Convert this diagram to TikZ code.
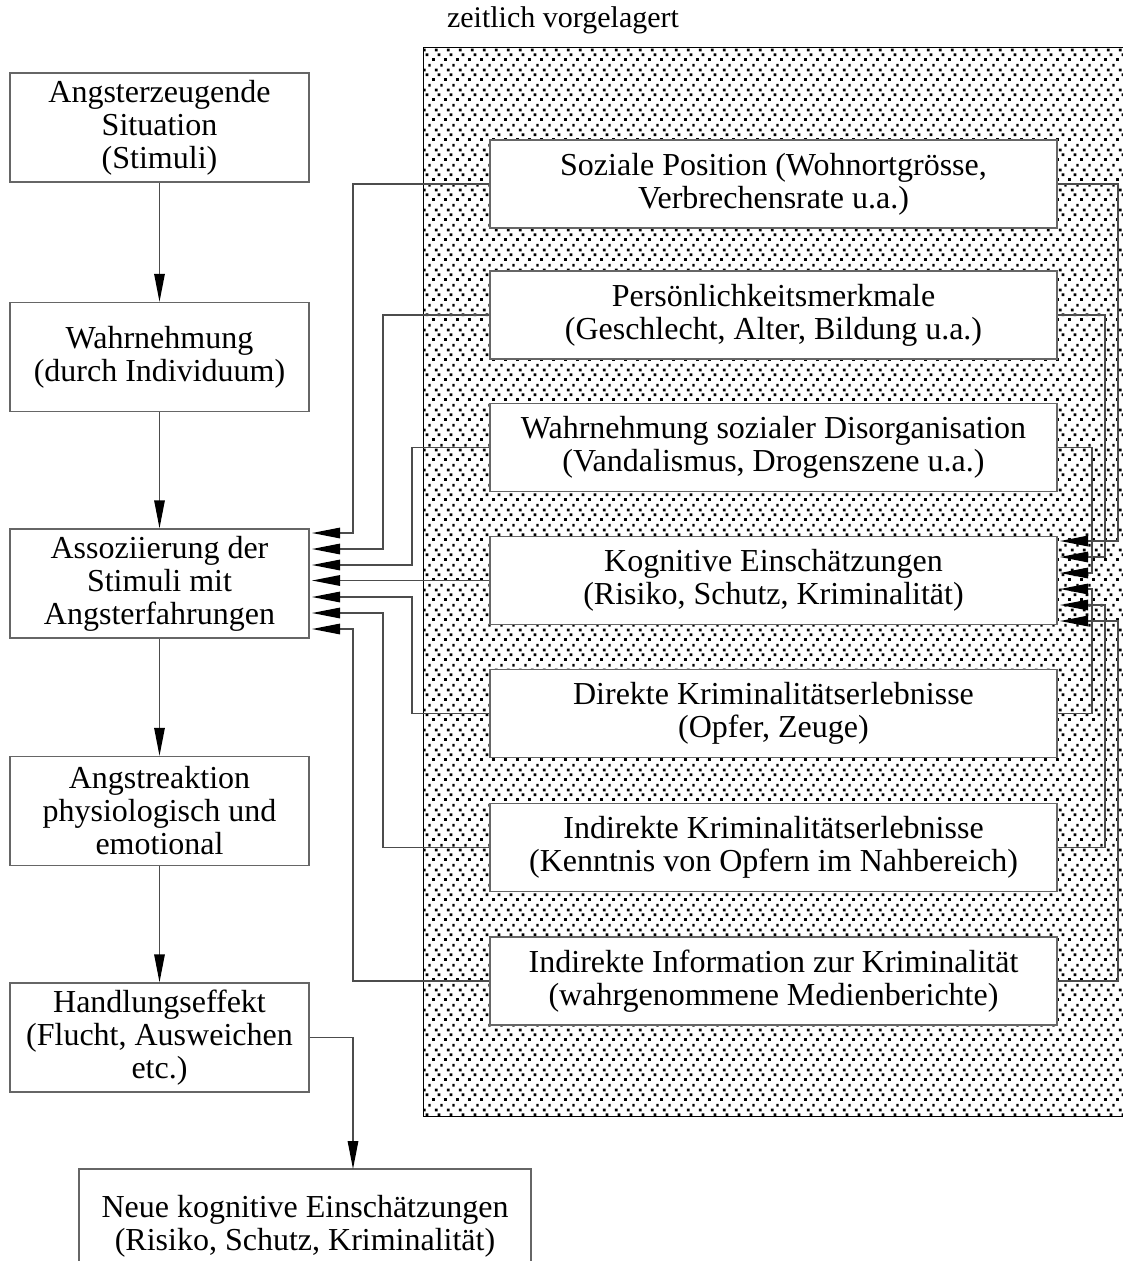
\documentclass[tikz,border=0pt]{standalone}
\usepackage{fontspec}
\setmainfont{Liberation Serif}
\usetikzlibrary{arrows.meta,patterns}

% staggered square dots for the shaded zone
\pgfdeclarepatternformonly{sprinkle}{\pgfpointorigin}{\pgfpoint{12pt}{20pt}}{\pgfpoint{12pt}{20pt}}{
  \pgfpathrectangle{\pgfpoint{0pt}{0pt}}{\pgfpoint{3pt}{3pt}}
  \pgfpathrectangle{\pgfpoint{6pt}{5pt}}{\pgfpoint{3pt}{3pt}}
  \pgfpathrectangle{\pgfpoint{3pt}{10pt}}{\pgfpoint{3pt}{3pt}}
  \pgfpathrectangle{\pgfpoint{9pt}{15pt}}{\pgfpoint{2.6pt}{3pt}}
  \pgfusepath{fill}
}

\tikzset{
  txt/.style={font=\fontsize{32}{33}\selectfont},
  box/.style={txt, draw=black!60, line width=1.4pt, fill=white, align=center, inner sep=0pt},
  lbox/.style={box, minimum width=299pt, minimum height=109pt},
  rbox/.style={box, minimum width=567pt, minimum height=88pt},
  conn/.style={draw=black!70, line width=1.4pt},
  arr/.style={conn, -{Triangle[length=28pt,width=10.5pt,color=black]}},
}

\begin{document}
\begin{tikzpicture}[x=1pt,y=-1pt]
\useasboundingbox (0,0) rectangle (1123,1261);
\clip (0,0) rectangle (1123,1261);

% shaded zone for the antecedent factors
\path[pattern=sprinkle] (423,47) rectangle (1140,1116);
\draw[line width=0.8pt] (1140,47) -- (423,47) -- (423,1116) -- (1140,1116);
\node[font=\fontsize{30}{32}\selectfont] (title) at (563,20) {zeitlich vorgelagert};

% main sequence
\node[lbox] (b1) at (159.5,127.5) {Angsterzeugende\\Situation\\(Stimuli)};
\node[lbox] (b2) at (159.5,357) {Wahrnehmung\\(durch Individuum)};
\node[lbox] (b3) at (159.5,583.5) {Assoziierung der\\Stimuli mit\\Angsterfahrungen};
\node[lbox] (b4) at (159.5,811) {Angstreaktion\\physiologisch und\\emotional};
\node[lbox] (b5) at (159.5,1037.5) {Handlungseffekt\\(Flucht, Ausweichen\\etc.)};
\node[box, minimum width=452pt, minimum height=114pt] (b6) at (305,1226)
  {Neue kognitive Einschätzungen\\(Risiko, Schutz, Kriminalität)};

% antecedent factors
\node[rbox] (r1) at (773.5,184) {Soziale Position (Wohnortgrösse,\\Verbrechensrate u.a.)};
\node[rbox] (r2) at (773.5,315) {Persönlichkeitsmerkmale\\(Geschlecht, Alter, Bildung u.a.)};
\node[rbox] (r3) at (773.5,447.5) {Wahrnehmung sozialer Disorganisation\\(Vandalismus, Drogenszene u.a.)};
\node[rbox] (r4) at (773.5,580.5) {Kognitive Einschätzungen\\(Risiko, Schutz, Kriminalität)};
\node[rbox] (r5) at (773.5,713.5) {Direkte Kriminalitätserlebnisse\\(Opfer, Zeuge)};
\node[rbox] (r6) at (773.5,847.5) {Indirekte Kriminalitätserlebnisse\\(Kenntnis von Opfern im Nahbereich)};
\node[rbox] (r7) at (773.5,981) {Indirekte Information zur Kriminalität\\(wahrgenommene Medienberichte)};

% arrow ends on the association box
\coordinate (a1) at (312,533);
\coordinate (a2) at (312,549);
\coordinate (a3) at (312,565);
\coordinate (a4) at (312,580.5);
\coordinate (a5) at (312,597);
\coordinate (a6) at (312,613);
\coordinate (a7) at (312,629);

% arrow ends on the cognitive appraisal box
\coordinate (k1) at (1060,541);
\coordinate (k2) at (1060,557);
\coordinate (k3) at (1060,573);
\coordinate (k5) at (1060,589);
\coordinate (k6) at (1060,605);
\coordinate (k7) at (1060,621);

% where the last action leads
\coordinate (b6in) at (353,1169);

% main sequence arrows
\draw[arr] (b1) -- (b2);
\draw[arr] (b2) -- (b3);
\draw[arr] (b3) -- (b4);
\draw[arr] (b4) -- (b5);
\draw[arr] (b5.east) -| (b6in);

% factors feeding the association
\draw[arr] (r1.west) -| (353,533) -- (a1);
\draw[arr] (r2.west) -| (383,549) -- (a2);
\draw[arr] (r3.west) -| (412,565) -- (a3);
\draw[arr] (r4.west) -- (a4);
\draw[arr] (r5.west) -| (412,597) -- (a5);
\draw[arr] (r6.west) -| (383,613) -- (a6);
\draw[arr] (r7.west) -| (353,629) -- (a7);

% factors feeding the cognitive appraisal
\draw[arr] (r1.east) -| (1118,541) -- (k1);
\draw[arr] (r2.east) -| (1105,557) -- (k2);
\draw[arr] (r3.east) -| (1092,573) -- (k3);
\draw[arr] (r5.east) -| (1092,589) -- (k5);
\draw[arr] (r6.east) -| (1105,605) -- (k6);
\draw[arr] (r7.east) -| (1118,621) -- (k7);
\end{tikzpicture}
\end{document}
